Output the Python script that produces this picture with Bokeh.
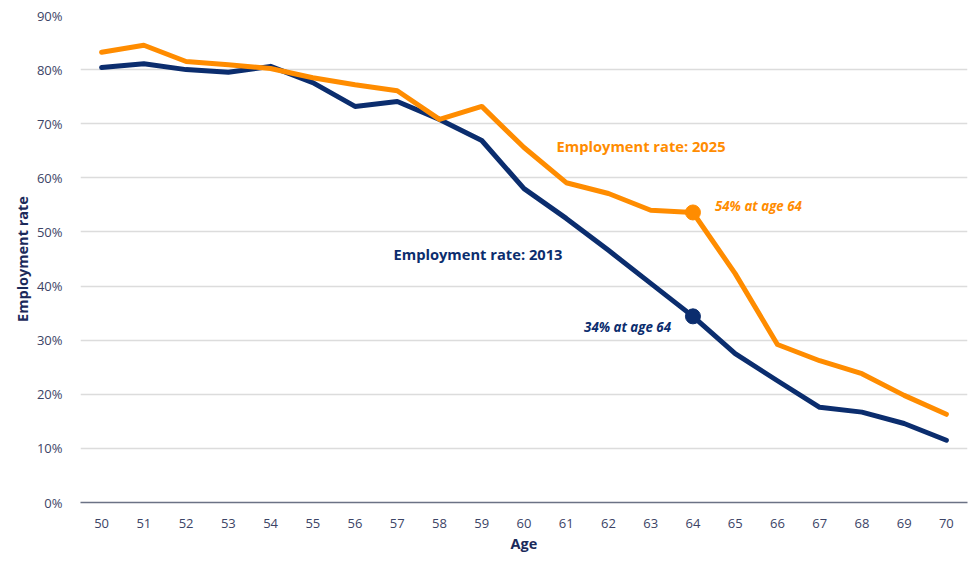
from bokeh.plotting import figure
from bokeh.models import ColumnDataSource, FixedTicker, NumeralTickFormatter, Label, Range1d
from bokeh.embed import file_html
from bokeh.resources import INLINE

ages = list(range(50, 71))
rate_2013 = [0.804, 0.811, 0.800, 0.795, 0.806, 0.776, 0.732, 0.741, 0.708, 0.669, 0.580,
             0.525, 0.466, 0.405, 0.344, 0.275, 0.225, 0.176, 0.167, 0.146, 0.115]
rate_2025 = [0.832, 0.845, 0.815, 0.809, 0.802, 0.785, 0.772, 0.761, 0.708, 0.732, 0.656,
             0.591, 0.571, 0.540, 0.536, 0.423, 0.292, 0.262, 0.238, 0.198, 0.163]
y_ticks = [0, 0.1, 0.2, 0.3, 0.4, 0.5, 0.6, 0.7, 0.8, 0.9]
highlight_age = 64

NAVY = "#0b2d6e"
ORANGE = "#ff8c00"
FONT = "Open Sans"

src = ColumnDataSource(dict(age=ages, r13=rate_2013, r25=rate_2025))
i = ages.index(highlight_age)

p = figure(width=980, height=565, output_backend="svg", toolbar_location=None,
           x_range=Range1d(49.5, 70.5), y_range=Range1d(0, 0.9),
           min_border_left=80, min_border_right=13, min_border_top=15, min_border_bottom=63)
p.outline_line_color = None

p.line("age", "r13", source=src, line_color=NAVY, line_width=5, line_join="round", line_cap="round")
p.line("age", "r25", source=src, line_color=ORANGE, line_width=5, line_join="round", line_cap="round")
p.scatter([highlight_age], [rate_2013[i]], size=15, color=NAVY)
p.scatter([highlight_age], [rate_2025[i]], size=15, color=ORANGE)

# axes
p.xaxis.ticker = FixedTicker(ticks=ages)
p.yaxis.ticker = FixedTicker(ticks=y_ticks)
p.yaxis.formatter = NumeralTickFormatter(format="0%")
p.xaxis.axis_label = "Age"
p.yaxis.axis_label = "Employment rate"
for ax in (p.xaxis, p.yaxis):
    ax.major_tick_line_color = None
    ax.minor_tick_line_color = None
    ax.major_label_text_font = FONT
    ax.major_label_text_font_size = "13px"
    ax.major_label_text_color = "#3c4466"
    ax.axis_label_text_font = FONT
    ax.axis_label_text_font_size = "14.5px"
    ax.axis_label_text_font_style = "bold"
    ax.axis_label_text_color = "#1b2a5a"
p.yaxis.axis_line_color = None
p.xaxis.axis_line_color = "#6b7285"
p.xaxis.axis_line_width = 1.5
p.xaxis.major_label_standoff = 10
p.xaxis.axis_label_standoff = 3
p.yaxis.major_label_standoff = 12
p.yaxis.axis_label_standoff = 2
p.xgrid.grid_line_color = None
p.ygrid.grid_line_color = "#dcdcdc"
p.ygrid.grid_line_width = 1.5

# annotations
p.add_layout(Label(x=60.77, y=0.658, text="Employment rate: 2025", text_color=ORANGE,
                   text_font=FONT, text_font_size="14.7px", text_font_style="bold",
                   text_baseline="middle"))
p.add_layout(Label(x=56.91, y=0.46, text="Employment rate: 2013", text_color=NAVY,
                   text_font=FONT, text_font_size="14.7px", text_font_style="bold",
                   text_baseline="middle"))
p.add_layout(Label(x=highlight_age, y=rate_2025[i], x_offset=22, y_offset=6,
                   text=f"{round(rate_2025[i]*100)}% at age {highlight_age}", text_color=ORANGE,
                   text_font=FONT, text_font_size="13.3px", text_font_style="bold italic",
                   text_baseline="middle"))
p.add_layout(Label(x=highlight_age, y=rate_2013[i], x_offset=-22, y_offset=-11,
                   text=f"{round(rate_2013[i]*100)}% at age {highlight_age}", text_color=NAVY,
                   text_font=FONT, text_font_size="13.3px", text_font_style="bold italic",
                   text_baseline="middle", text_align="right"))

open("out.html", "w").write(file_html(p, INLINE))
